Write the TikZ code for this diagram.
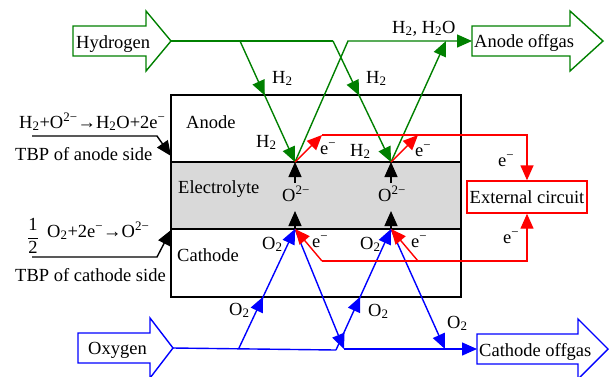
\documentclass[tikz,border=0pt]{standalone}
\usepackage{fontspec}
\setmainfont{Liberation Serif}
\usetikzlibrary{arrows.meta,decorations.markings}
\definecolor{dgreen}{RGB}{0,128,0}
\begin{document}
\begin{tikzpicture}[x=1pt,y=-1pt,
  every node/.style={font=\fontsize{18.5}{22}\selectfont, inner sep=0pt},
  lbl/.style={anchor=base west},
  >={Triangle[length=15pt,width=13pt]},
  gline/.style={draw=dgreen, fill=none, line width=1.4pt},
  bline/.style={draw=blue, line width=1.4pt},
  rline/.style={draw=red, line width=1.4pt},
  kline/.style={draw=black, line width=1.4pt},
  blockarrow/.style={line width=1.4pt, line join=miter},
  midarrow/.style={postaction={decorate}, decoration={markings, mark=at position #1 with {\arrow{>}}}}
]
\useasboundingbox (0,0) rectangle (609,376);
\clip (0,0) rectangle (609,376);

% cell
\fill[gray!30] (171,162) rectangle (461,229);
\draw[line width=1.8pt] (171,95) rectangle (461,297);
\draw[line width=2.2pt] (171,162) -- (461,162) (171,229) -- (461,229);
\node[lbl] (anode) at (186,128) {Anode};
\node[lbl] (elec) at (178,193) {Electrolyte};
\node[lbl] (cath) at (177,261) {Cathode};

% block arrows
\draw[blockarrow, dgreen] (73,26) -- (146,26) -- (146,11) -- (171,41) -- (146,71) -- (146,56) -- (73,56) -- cycle;
\draw[blockarrow, dgreen] (472,26) -- (570,26) -- (570,11) -- (603,41) -- (570,71) -- (570,56) -- (472,56) -- cycle;
\draw[blockarrow, blue] (78,333) -- (150,333) -- (150,318) -- (173,348) -- (150,378) -- (150,363) -- (78,363) -- cycle;
\draw[blockarrow, blue] (477,334) -- (578,334) -- (578,319) -- (608,349) -- (578,379) -- (578,364) -- (477,364) -- cycle;
\node[lbl] (hyd) at (76,48) {Hydrogen};
\node[lbl] (aoffl) at (474,47) {Anode offgas};
\node[lbl] (oxy) at (88,354) {Oxygen};
\node[lbl] (coffl) at (479,356) {Cathode offgas};

% key coordinates
\coordinate (hydtip) at (171,41);
\coordinate (aoff) at (472,41);
\coordinate (oxtip) at (173,348);
\coordinate (coff) at (477,349);
\coordinate (gA) at (295,162);
\coordinate (gB) at (391,162);
\coordinate (bA) at (295,229);
\coordinate (bB) at (391,229);
\coordinate (g1) at (240,41);
\coordinate (g2) at (333,41);
\coordinate (g3) at (348,41);
\coordinate (g4) at (446,41);
\coordinate (b1) at (239,348);
\coordinate (b2) at (336,350);
\coordinate (b3) at (344,349);
\coordinate (b4) at (445,349);
\coordinate (r1) at (322,135);
\coordinate (r2) at (418,135);
\coordinate (r3) at (322,261);
\coordinate (r4) at (418,261);

% external circuit
\node[draw=red, line width=1.4pt, minimum width=120pt, minimum height=32pt] (ext) at (527,197) {External circuit};

% green (hydrogen side)
\draw[gline] (hydtip) -- (g2);
\draw[gline, midarrow=0.45, ->] (g1) -- (gA);
\draw[gline, midarrow=0.45, ->] (g2) -- (gB);
\draw[gline, ->] (gA) -- (g3) -- (aoff);
\draw[gline, ->] (gB) -- (g4);

% blue (oxygen side)
\draw[bline] (oxtip) -- (b2);
\draw[bline, midarrow=0.43, ->] (b1) -- (bA);
\draw[bline, midarrow=0.44, ->] (b2) -- (bB);
\draw[bline, ->] (bA) -- (b3);
\draw[bline, ->] (b3) -- (coff);
\draw[bline, ->] (bB) -- (b4);

% red (electrons)
\draw[rline, ->] (gA) -- (r1);
\draw[rline, ->] (gB) -- (r2);
\draw[rline, ->] (r1) -| (ext.north);
\draw[rline, ->] (r3) -- (bA);
\draw[rline, ->] (r4) -- (bB);
\draw[rline, ->] (r3) -| (ext.south);

% oxide ions
\node[lbl] (o1) at (282,201) {O\textsuperscript{2−}};
\node[lbl] (o2) at (378,201) {O\textsuperscript{2−}};
\coordinate (o1t) at (295,183);
\coordinate (o2t) at (391,183);
\coordinate (o1b) at (295,211);
\coordinate (o2b) at (391,211);
\draw[kline, ->] (o1t) -- (gA);
\draw[kline, ->] (o2t) -- (gB);
\draw[kline, ->] (bA) -- (o1b);
\draw[kline, ->] (bB) -- (o2b);

% labels
\node[lbl] (h2a) at (272,83) {H\textsubscript{2}};
\node[lbl] (h2b) at (366,83) {H\textsubscript{2}};
\node[lbl] (h2c) at (256,147) {H\textsubscript{2}};
\node[lbl] (h2d) at (350,156) {H\textsubscript{2}};
\node[lbl] (h2o) at (392,33) {H\textsubscript{2}, H\textsubscript{2}O};
\node[lbl] (e1) at (320,154) {e\textsuperscript{−}};
\node[lbl] (e2) at (415,156) {e\textsuperscript{−}};
\node[lbl] (e3) at (498,166) {e\textsuperscript{−}};
\node[lbl] (e4) at (503,243) {e\textsuperscript{−}};
\node[lbl] (e5) at (312,247) {e\textsuperscript{−}};
\node[lbl] (e6) at (411,247) {e\textsuperscript{−}};
\node[lbl] (o2a) at (262,249) {O\textsubscript{2}};
\node[lbl] (o2bb) at (360,249) {O\textsubscript{2}};
\node[lbl] (o2c) at (229,315) {O\textsubscript{2}};
\node[lbl] (o2d) at (368,316) {O\textsubscript{2}};
\node[lbl] (o2e) at (447,328) {O\textsubscript{2}};

% left annotations
\node[lbl] (reacA) at (19,128) {H\textsubscript{2}+O\textsuperscript{2−}→H\textsubscript{2}O+2e\textsuperscript{−}};
\node[lbl] (tbpA) at (15,160) {TBP of anode side};
\coordinate (la1) at (32,136);
\coordinate (la2) at (157,136);
\coordinate (la3) at (171,156);
\draw[kline, ->] (la1) -- (la2) -- (la3);

\node (half) at (33,236) {$\displaystyle\frac{\mbox{1}}{\mbox{2}}$};
\node[lbl] (reacC) at (47,237) {O\textsubscript{2}+2e\textsuperscript{−}→O\textsuperscript{2−}};
\node[lbl] (tbpC) at (15,281) {TBP of cathode side};
\coordinate (lc1) at (32,257);
\coordinate (lc2) at (157,257);
\coordinate (lc3) at (171,230);
\draw[kline, ->] (lc1) -- (lc2) -- (lc3);
\end{tikzpicture}
\end{document}
